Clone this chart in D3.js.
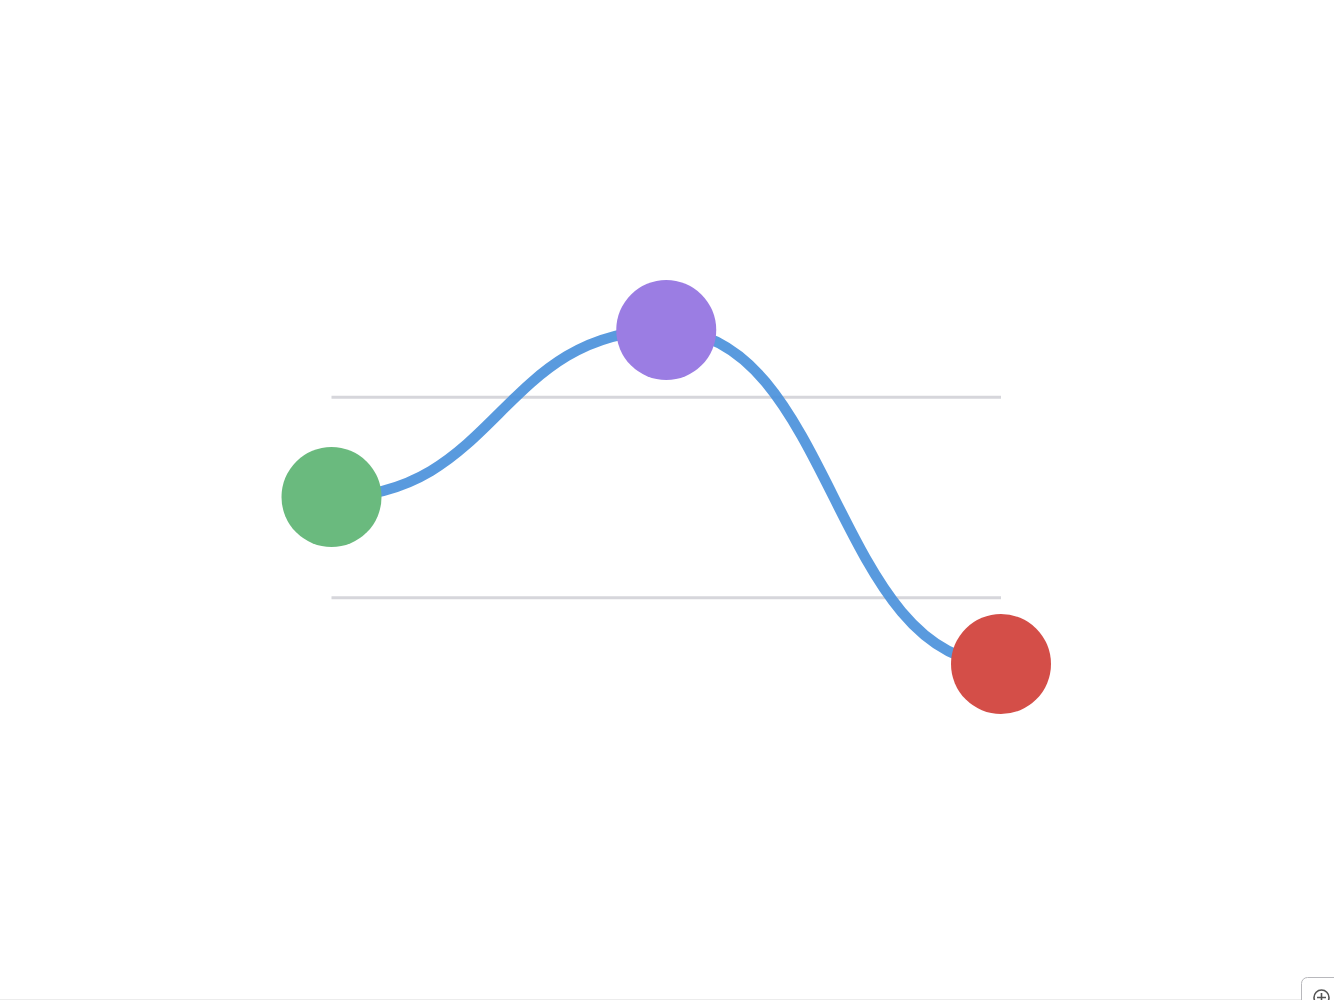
<!DOCTYPE html>
<html>
<head>
<meta charset="utf-8">
<script src="https://d3js.org/d3.v7.min.js"></script>
<style>
  html, body { margin: 0; padding: 0; background: #fff; overflow: hidden; }
</style>
</head>
<body>
<div class="chart"></div>
<script>
const svgWidth = 1334;
const svgHeight = 1000;

// data
const categories = ["start", "peak", "end"];
const values = [0, 5, -5];
const pointColors = ["#6aba7e", "#9b7de3", "#d44e48"];
const gridTicks = [-3, 3];

const margin = { top: 330, right: 333, bottom: 336, left: 331.5 };
const width = svgWidth - margin.left - margin.right;
const height = svgHeight - margin.top - margin.bottom;

const svg = d3.select(".chart")
    .append("svg")
    .attr("width", svgWidth)
    .attr("height", svgHeight);

const chartGroup = svg.append("g")
    .attr("transform", `translate(${margin.left}, ${margin.top})`);

const xScale = d3.scalePoint()
    .domain(categories)
    .range([0, width]);

const yScale = d3.scaleLinear()
    .domain([-5, 5])
    .range([height, 0]);

// grid lines
const leftAxis = d3.axisLeft(yScale)
    .tickValues(gridTicks)
    .tickSize(-width)
    .tickFormat("");

const grid = chartGroup.append("g")
    .attr("class", "grid")
    .call(leftAxis);
grid.select(".domain").remove();
grid.selectAll(".tick line")
    .attr("stroke", "#d6d6db")
    .attr("stroke-width", 3);

const pts = categories.map((c, i) => ({ cat: c, value: values[i], color: pointColors[i] }));

const line = d3.line()
    .x(d => xScale(d.cat))
    .y(d => yScale(d.value))
    .curve(d3.curveBumpX);

chartGroup.append("path")
    .datum(pts)
    .attr("d", line)
    .attr("fill", "none")
    .attr("stroke", "#478fda")
    .attr("stroke-opacity", 0.9)
    .attr("stroke-width", 10.5);

chartGroup.selectAll(".point")
    .data(pts)
    .enter()
    .append("circle")
    .classed("point", true)
    .attr("cx", d => xScale(d.cat))
    .attr("cy", d => yScale(d.value))
    .attr("r", 50)
    .attr("fill", d => d.color);

// bottom border + zoom control
svg.append("line")
    .attr("x1", 0).attr("x2", svgWidth)
    .attr("y1", 999.5).attr("y2", 999.5)
    .attr("stroke", "#ececec");

const ctrl = svg.append("g")
    .attr("transform", "translate(1301.5, 977.5)");
ctrl.append("rect")
    .attr("width", 44).attr("height", 44)
    .attr("rx", 6)
    .attr("fill", "#fff")
    .attr("stroke", "#b8b8bc");
ctrl.append("circle")
    .attr("cx", 20).attr("cy", 20).attr("r", 7.5)
    .attr("fill", "none")
    .attr("stroke", "#555")
    .attr("stroke-width", 1.6);
ctrl.append("path")
    .attr("d", "M20,15.5V24.5M15.5,20H24.5")
    .attr("stroke", "#555")
    .attr("stroke-width", 1.6);
</script>
</body>
</html>
